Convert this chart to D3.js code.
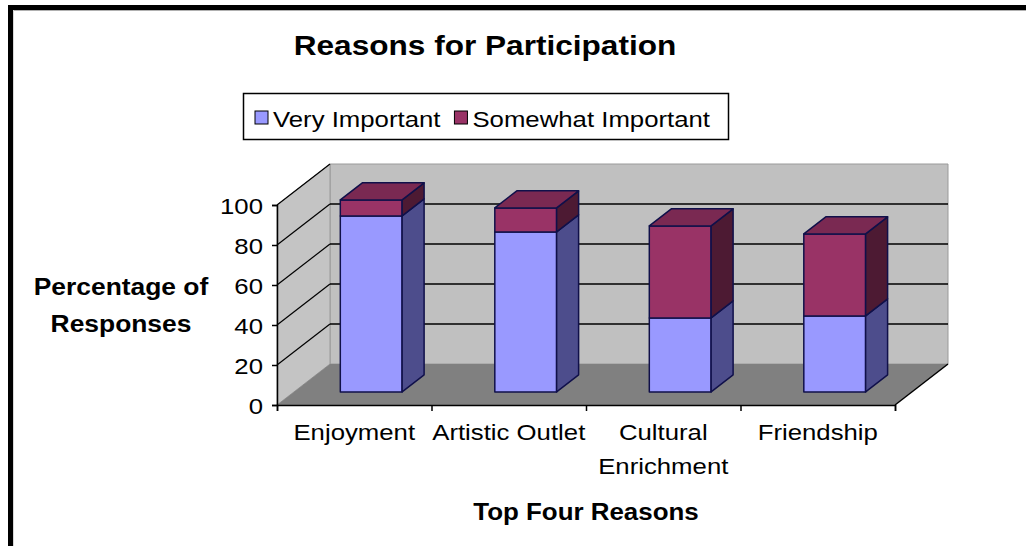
<!DOCTYPE html>
<html>
<head>
<meta charset="utf-8">
<script src="https://cdn.jsdelivr.net/npm/d3@7"></script>
<style>
  html, body { margin: 0; padding: 0; background: #ffffff; }
  svg { display: block; }
  text { font-family: "Liberation Sans", Arial, sans-serif; fill: #000; }
</style>
</head>
<body>
<svg id="chart" width="1026" height="546"></svg>
<script>
// ---- data ----
const categories = ["Enjoyment", "Artistic Outlet", "Cultural Enrichment", "Friendship"];
const seriesNames = ["Very Important", "Somewhat Important"];
const veryImportant = [88, 80, 37, 38];
const somewhatImportant = [8, 12, 46, 41];
const yTicks = [0, 20, 40, 60, 80, 100];
const chartTitle = "Reasons for Participation";
const yTitleLines = ["Percentage of", "Responses"];
const xTitle = "Top Four Reasons";

// ---- layout ----
const SX = 1.12;                 // horizontal stretch of regular text
const ox = 277, oy = 405;        // front-left-bottom corner of the plot
const W = 618, H = 200;          // front plane size
const DX = 53, DY = 41;          // depth offset (oblique projection)
const barZ0 = 0.32, barZ1 = 0.735;

const faceColors = [
  { front: "#9999ff", side: "#4d4d8c", top: "#7a7acc" },
  { front: "#993366", side: "#4d1a33", top: "#7a2952" }
];

const svg = d3.select("#chart");

const x = d3.scaleBand().domain(categories).range([0, W]).paddingInner(0.6).paddingOuter(0.3);
const y = d3.scaleLinear().domain([0, 100]).range([0, H]);
const proj = (u, v, z) => [ox + u + DX * z, oy - y(v) - DY * z];
const poly = pts => pts.map(p => p.join(",")).join(" ");

function stext(g, px, py, str, size, weight, anchor, sx) {
  return g.append("text")
    .attr("transform", `translate(${px},${py}) scale(${sx || SX},1)`)
    .attr("text-anchor", anchor || "middle")
    .attr("font-size", size)
    .attr("font-weight", weight || "normal")
    .text(str);
}

// ---- outer frame ----
svg.append("rect").attr("x", 8).attr("y", 5).attr("width", 1018).attr("height", 5).attr("fill", "#000");
svg.append("rect").attr("x", 8).attr("y", 5).attr("width", 5).attr("height", 541).attr("fill", "#000");
svg.append("line").attr("x1", 13).attr("x2", 1026).attr("y1", 10.5).attr("y2", 10.5).attr("stroke", "#b0b0b0");
svg.append("line").attr("x1", 13.5).attr("x2", 13.5).attr("y1", 10).attr("y2", 546).attr("stroke", "#d8d8d8");

// ---- walls and floor ----
const g = svg.append("g");
g.append("polygon")
  .attr("points", poly([proj(0, 0, 1), proj(W, 0, 1), proj(W, 100, 1), proj(0, 100, 1)]))
  .attr("fill", "#c0c0c0").attr("stroke", "#9a9a9a").attr("stroke-width", 1);
g.append("polygon")
  .attr("points", poly([proj(0, 0, 0), proj(0, 100, 0), proj(0, 100, 1), proj(0, 0, 1)]))
  .attr("fill", "#c4c4c4").attr("stroke", "#9a9a9a").attr("stroke-width", 1);
g.append("polygon")
  .attr("points", poly([proj(0, 0, 0), proj(W, 0, 0), proj(W, 0, 1), proj(0, 0, 1)]))
  .attr("fill", "#808080").attr("stroke", "none");
// floor right edge
g.append("line")
  .attr("x1", proj(W, 0, 0)[0]).attr("y1", proj(W, 0, 0)[1])
  .attr("x2", proj(W, 0, 1)[0]).attr("y2", proj(W, 0, 1)[1])
  .attr("stroke", "#000").attr("stroke-width", 1.5);

// gridlines: back wall + side wall diagonals
const gridVals = yTicks.filter(v => v > 0);
g.selectAll(".gback").data(gridVals.filter(v => v < 100)).join("line")
  .attr("x1", v => proj(0, v, 1)[0]).attr("y1", v => proj(0, v, 1)[1])
  .attr("x2", v => proj(W, v, 1)[0]).attr("y2", v => proj(W, v, 1)[1])
  .attr("stroke", "#000").attr("stroke-width", 1.5);
g.selectAll(".gside").data(gridVals).join("line")
  .attr("x1", v => proj(0, v, 0)[0]).attr("y1", v => proj(0, v, 0)[1])
  .attr("x2", v => proj(0, v, 1)[0]).attr("y2", v => proj(0, v, 1)[1])
  .attr("stroke", "#000").attr("stroke-width", 1.2);

// ---- bars ----
const stacked = categories.map((c, i) => {
  const vals = [veryImportant[i], somewhatImportant[i]];
  let base = 0;
  return vals.map((v, s) => { const seg = { cat: c, s, y0: base, y1: base + v, last: s === vals.length - 1 }; base += v; return seg; });
});
const barsG = svg.append("g");
stacked.forEach(segs => {
  segs.forEach(seg => {
    const u0 = x(seg.cat), u1 = x(seg.cat) + x.bandwidth();
    const col = faceColors[seg.s];
    const bg = barsG.append("g").attr("stroke", "#10104a").attr("stroke-width", 1.5).attr("stroke-linejoin", "round");
    // front
    bg.append("polygon")
      .attr("points", poly([proj(u0, seg.y0, barZ0), proj(u1, seg.y0, barZ0), proj(u1, seg.y1, barZ0), proj(u0, seg.y1, barZ0)]))
      .attr("fill", col.front);
    // right side
    bg.append("polygon")
      .attr("points", poly([proj(u1, seg.y0, barZ0), proj(u1, seg.y0, barZ1), proj(u1, seg.y1, barZ1), proj(u1, seg.y1, barZ0)]))
      .attr("fill", col.side);
    if (seg.last) {
      bg.append("polygon")
        .attr("points", poly([proj(u0, seg.y1, barZ0), proj(u1, seg.y1, barZ0), proj(u1, seg.y1, barZ1), proj(u0, seg.y1, barZ1)]))
        .attr("fill", col.top);
    }
  });
});

// ---- axes ----
const yAxisScale = d3.scaleLinear().domain([0, 100]).range([oy, oy - H]);
const yAxisG = svg.append("g").attr("transform", `translate(${ox},0)`)
  .call(d3.axisLeft(yAxisScale).tickValues(yTicks).tickSize(5).tickPadding(9));
yAxisG.select(".domain").attr("stroke", "#000").attr("stroke-width", 1.5);
yAxisG.selectAll(".tick line").attr("stroke", "#000").attr("stroke-width", 1.5);
yAxisG.selectAll(".tick text")
  .attr("font-family", "'Liberation Sans', Arial, sans-serif")
  .attr("font-size", 23).attr("fill", "#000")
  .attr("x", null).attr("dy", null)
  .attr("transform", `translate(-14,8) scale(${SX},1)`);

const xb = d3.scaleLinear().domain([0, categories.length]).range([ox, ox + W]);
const xAxisG = svg.append("g").attr("transform", `translate(0,${oy})`)
  .call(d3.axisBottom(xb).ticks(categories.length).tickSize(6).tickFormat(""));
xAxisG.select(".domain").attr("stroke", "#000").attr("stroke-width", 1.5);
xAxisG.selectAll(".tick line").attr("stroke", "#000").attr("stroke-width", 1.5);

// category labels (wrapped when clearly wider than the category slot)
const labG = svg.append("g");
categories.forEach(c => {
  const cx = ox + x(c) + x.bandwidth() / 2;
  const words = c.split(" ");
  const t = stext(labG, cx, 440, c, 23);
  const wdt = t.node().getComputedTextLength() * SX;
  t.remove();
  let lines = [c];
  if (wdt > x.step() * 1.15 && words.length > 1) {
    lines = [words.slice(0, -1).join(" "), words[words.length - 1]];
  }
  lines.forEach((ln, k) => stext(labG, cx, 440 + k * 34, ln, 23));
});

// ---- titles ----
stext(svg, 485, 55, chartTitle, 27, "bold", "middle", 1.17);
yTitleLines.forEach((ln, k) => stext(svg, 121, 295 + k * 37, ln, 24, "bold", "middle", 1.1));
stext(svg, ox + W / 2, 520, xTitle, 24, "bold", "middle", 1.08);

// ---- legend ----
const lg = svg.append("g");
lg.append("rect").attr("x", 243.5).attr("y", 93.5).attr("width", 485).attr("height", 46)
  .attr("fill", "#fff").attr("stroke", "#000").attr("stroke-width", 1.5);
let lx = 255;
seriesNames.forEach((name, i) => {
  lg.append("rect").attr("x", lx).attr("y", 111).attr("width", 13).attr("height", 13)
    .attr("fill", faceColors[i].front).attr("stroke", "#000").attr("stroke-width", 1);
  const t = stext(lg, lx + 18, 127, name, 23, "normal", "start");
  lx += 18 + t.node().getComputedTextLength() * SX + 14;
});
</script>
</body>
</html>
